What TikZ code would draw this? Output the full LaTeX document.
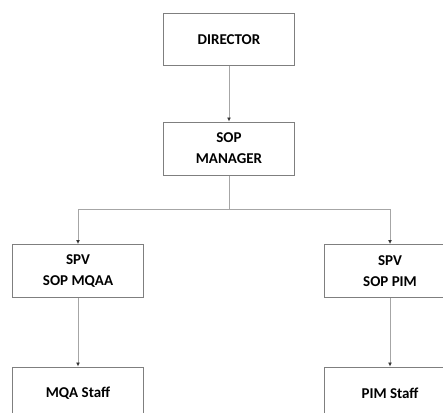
\documentclass[tikz,border=0pt]{standalone}
\usepackage{fontspec}
\setmainfont{Carlito}
\usetikzlibrary{arrows.meta}
\definecolor{boxline}{HTML}{7F7F7F}
\definecolor{linkline}{HTML}{A6A6A6}
\tikzset{
  unit/.style={draw=boxline, line width=1pt, fill=white, align=center,
    minimum width=131pt, minimum height=53pt, inner sep=2pt,
    font=\fontsize{15}{21}\selectfont\bfseries},
  link/.style={draw=linkline, line width=1pt,
    -{Latex[length=4pt,width=4pt,color=black!80]}}
}
\begin{document}
\begin{tikzpicture}[x=1pt,y=-1pt]
    \useasboundingbox (0,0) rectangle (443,412);

    % Direccion
    \node[unit, minimum height=51pt] (director) at (229,39.5) {DIRECTOR};
    \node[unit] (manager) at (229,148.5) {SOP\\MANAGER};

    % Supervisores
    \node[unit] (mqaa) at (78,271) {SPV\\SOP MQAA};
    \node[unit] (pim) at (390,271) {SPV\\SOP PIM};

    % Personal
    \node[unit] (mqastaff) at (78,393.5) {MQA Staff};
    \node[unit] (pimstaff) at (390,393.5) {PIM Staff};

    % Conexiones
    \coordinate (split) at (229,209);
    \draw[link] (director) -- (manager);
    \draw[link] (manager.south) -- (split) -| (mqaa.north);
    \draw[link] (split) -| (pim.north);
    \draw[link] (mqaa) -- (mqastaff);
    \draw[link] (pim) -- (pimstaff);
\end{tikzpicture}
\end{document}
